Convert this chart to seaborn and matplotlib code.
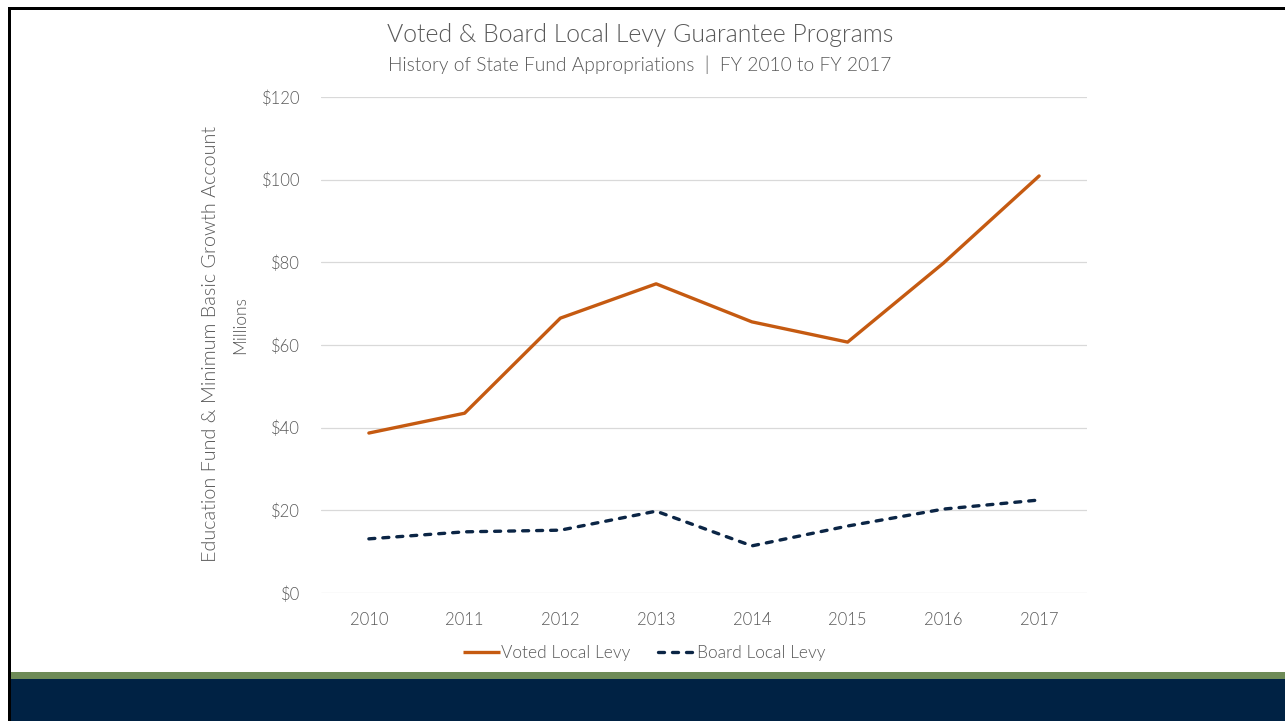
import matplotlib
matplotlib.use("Agg")
import matplotlib.pyplot as plt
from matplotlib.patches import Rectangle
from matplotlib.lines import Line2D
from matplotlib.ticker import FuncFormatter
import seaborn as sns
import pandas as pd

years = ["2010", "2011", "2012", "2013", "2014", "2015", "2016", "2017"]
voted_local_levy = [38.7, 43.5, 66.5, 74.8, 65.6, 60.7, 79.8, 100.9]
board_local_levy = [13.1, 14.8, 15.2, 19.8, 11.4, 16.2, 20.3, 22.5]
series_names = ["Voted Local Levy", "Board Local Levy"]
y_ticks = [0, 20, 40, 60, 80, 100, 120]

ORANGE = "#C55A11"
NAVY = "#0B2545"
GRAY = "#595959"
DASH = (1.8, 2.4)

sns.set_theme(style="white")
plt.rcParams["font.family"] = ["Lato", "DejaVu Sans"]
plt.rcParams["font.weight"] = 300

df = pd.DataFrame({
    "year": years * 2,
    "value": voted_local_levy + board_local_levy,
    "series": [series_names[0]] * len(years) + [series_names[1]] * len(years),
})

W, H = 1285, 721
fig = plt.figure(figsize=(W / 100, H / 100), dpi=100)
fig.patch.set_facecolor("white")

ax = fig.add_axes([321 / W, 1 - 593 / H, (1087 - 321) / W, (593 - 97) / H])
sns.lineplot(
    data=df, x="year", y="value", hue="series", style="series",
    palette=[ORANGE, NAVY], dashes={series_names[0]: "", series_names[1]: DASH},
    linewidth=2.4, legend=False, ax=ax, sort=False,
)
for ln in ax.lines:
    ln.set_solid_capstyle("round")
    ln.set_dash_capstyle("round")

ax.set_xlim(-0.5, len(years) - 0.5)
ax.set_ylim(0, 120)
ax.set_yticks(y_ticks)
ax.yaxis.set_major_formatter(FuncFormatter(lambda v, p: f"${v:.0f}"))
ax.grid(axis="y", color="#D9D9D9", linewidth=0.9)
ax.grid(axis="x", visible=False)
ax.set_axisbelow(True)
for s in ax.spines.values():
    s.set_visible(False)
ax.tick_params(axis="both", colors=GRAY, labelsize=12, length=0)
ax.tick_params(axis="y", pad=15)
ax.tick_params(axis="x", pad=14)
ax.set_xlabel("")
ax.set_ylabel("")

# titles
fig.text(640 / W, 1 - 35 / H, "Voted & Board Local Levy Guarantee Programs",
         ha="center", va="center", fontsize=17.9, color=GRAY)
fig.text(640 / W, 1 - 65 / H, "History of State Fund Appropriations  |  FY 2010 to FY 2017",
         ha="center", va="center", fontsize=13.8, color=GRAY)

# axis titles
fig.text(211 / W, 1 - 344 / H, "Education Fund & Minimum Basic Growth Account",
         ha="center", va="center", rotation=90, fontsize=14.2, color=GRAY)
fig.text(240 / W, 1 - 325 / H, "Millions",
         ha="center", va="center", rotation=90, fontsize=12.5, color=GRAY)

# legend
handles = [
    Line2D([], [], color=ORANGE, linewidth=2.4, solid_capstyle="butt"),
    Line2D([], [], color=NAVY, linewidth=2.4, linestyle=(0, DASH), dash_capstyle="round"),
]
fig.legend(handles, series_names, loc="center", bbox_to_anchor=(644 / W, 1 - 653 / H),
           ncol=2, frameon=False, fontsize=12.5, labelcolor=GRAY,
           handlelength=2.15, handletextpad=0.05, columnspacing=1.6)

# frame and footer bands
fig.add_artist(Rectangle((10.5 / W, 0), 1 - 10.5 / W, 42 / H, transform=fig.transFigure,
                         facecolor="#002244", edgecolor="none"))
fig.add_artist(Rectangle((10.5 / W, 42 / H), 1 - 10.5 / W, 7 / H, transform=fig.transFigure,
                         facecolor="#6E8B57", edgecolor="none"))
fig.add_artist(Rectangle((8 / W, 1 - 10 / H), 1 - 8 / W, 3 / H, transform=fig.transFigure,
                         facecolor="black", edgecolor="none"))
fig.add_artist(Rectangle((8 / W, 0), 2.5 / W, 1 - 7 / H, transform=fig.transFigure,
                         facecolor="black", edgecolor="none"))

fig.savefig("out.png", dpi=100)
